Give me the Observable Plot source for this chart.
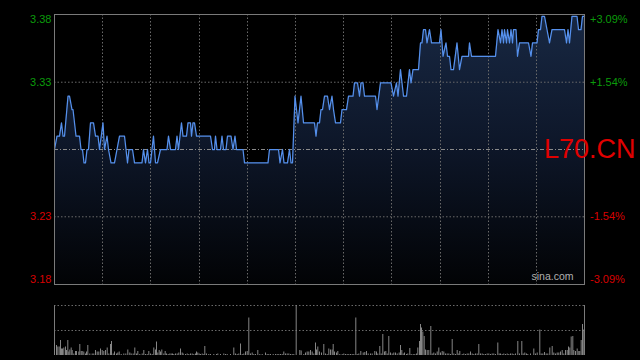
<!DOCTYPE html>
<html><head><meta charset="utf-8">
<script src="https://cdn.jsdelivr.net/npm/d3@7"></script>
<script src="https://cdn.jsdelivr.net/npm/@observablehq/plot@0.6"></script>
<style>
html,body{margin:0;padding:0;background:#000;}
#wrap{position:relative;width:640px;height:360px;background:#000;overflow:hidden;}
#main{position:absolute;left:0;top:0;}
#vol{position:absolute;left:0;top:290px;}
</style></head><body><div id="wrap"><div id="main"></div><div id="vol"></div></div>
<script>
// ---- data ----
const prevClose = 3.28;
const rangePct = 3.09;
const pctTicks = [3.09, 1.54, -1.54, -3.09];
const priceTickLabels = ["3.38", "3.33", "3.23", "3.18"];
const pctTickLabels = ["+3.09%", "+1.54%", "-1.54%", "-3.09%"];
const timeGrid = [48, 96, 145, 193, 241, 289, 337, 386, 434, 482];
const symbol = "L70.CN";
const source = "sina.com";

const priceT = [0,2.5,5,7,8.5,10,13.5,15,17.5,18.5,21.5,25,26.5,28,29.5,31,32.5,34,36,39,41,43.5,45,48.5,50,52.5,54,56.5,60,62.5,65,70,71.5,73,74.5,78,80,87.5,89,91,93,94.5,96,99,101,103,106,112.5,114,116,121,122.5,124,127,128.5,132,133.5,136,137,138.5,140,142,156,158,160,161,162.5,166,167.5,169,171.5,173,176.5,178.5,180.5,182,188.5,190,213.5,215,224,225.5,228,229.5,233,235,236.5,238,240.5,243.5,246.5,249,260,261.5,263,265,266.5,268,270,273,275,277.5,279,281,286,287.5,292,294,298.5,300,303,305,306.5,308.5,310,321,322.5,326,336.5,339,342,343.5,346,349,352,355,356.5,358.5,364,366,367.5,369,371,372.5,375,377,385,386.5,388.5,391.5,393,395,396.5,399,402.5,405,407.5,414,415,417,441,443.5,446,447.5,449,450,452,453,455,456.5,458,459,461.5,463,465,474,476.5,478,482.5,484,486,487.5,490,492.5,495,497.5,510,512,513.5,515,517.5,522.5,524,526.5,528,530];
const priceV = [3.28,3.29,3.29,3.30,3.29,3.29,3.32,3.32,3.31,3.31,3.29,3.29,3.28,3.28,3.27,3.27,3.28,3.28,3.30,3.30,3.29,3.29,3.28,3.30,3.28,3.29,3.28,3.27,3.27,3.28,3.29,3.29,3.28,3.27,3.28,3.28,3.27,3.27,3.28,3.27,3.28,3.27,3.27,3.29,3.27,3.27,3.28,3.28,3.29,3.28,3.28,3.29,3.28,3.30,3.29,3.29,3.30,3.30,3.29,3.30,3.30,3.29,3.29,3.28,3.28,3.29,3.28,3.28,3.29,3.28,3.28,3.29,3.29,3.28,3.29,3.28,3.28,3.27,3.27,3.28,3.28,3.27,3.28,3.27,3.27,3.28,3.27,3.27,3.32,3.30,3.32,3.30,3.30,3.29,3.30,3.30,3.31,3.31,3.32,3.32,3.31,3.32,3.31,3.30,3.30,3.31,3.31,3.32,3.32,3.33,3.33,3.32,3.33,3.33,3.32,3.32,3.31,3.33,3.33,3.32,3.33,3.32,3.34,3.32,3.32,3.34,3.33,3.34,3.34,3.36,3.36,3.37,3.37,3.36,3.37,3.36,3.36,3.37,3.35,3.36,3.35,3.35,3.34,3.34,3.36,3.34,3.35,3.35,3.36,3.35,3.35,3.37,3.36,3.37,3.36,3.37,3.36,3.37,3.36,3.37,3.36,3.37,3.37,3.35,3.36,3.36,3.35,3.36,3.36,3.37,3.37,3.38,3.38,3.37,3.36,3.37,3.37,3.36,3.37,3.36,3.38,3.38,3.37,3.37,3.38,3.38];

const volT = [0,2,3.3,4.7,6,7,8,9.3,11,12,13.3,14.3,15.3,16.7,17.7,19.3,21,22,24.3,25.3,26.7,27.7,29.3,31,32,33.3,35.3,37.7,39.3,41,42.7,44.3,46,47.7,49.3,51,52.7,54.3,56,57,58.7,60,62,63.3,64.7,66.7,69.3,71.3,73.3,75.3,76.7,78.7,80.3,82,83.3,85.3,87.7,89.3,91,92.7,94.3,96,97.7,99.3,101,102,103.3,104.7,106,107.3,109.3,110.7,112,113.7,115.3,116.7,118,119.3,121,122.7,124.3,126,127.7,128.7,131,132.7,134.3,136,137.7,139.3,141,142,143.3,144.7,146,147.7,149.3,150.3,152,154.3,156,159.3,162,163.3,166,169.3,171,172.7,176,179.3,181,182.7,184.3,186,187.7,189.3,191,192.7,194.3,196,197.7,199.3,201,203.3,205.3,207.7,211,212.7,214.3,216,218.7,221,222.7,224.3,226,227.7,229.3,231,232.7,234.3,236,237.7,239.3,241.7,245.3,246.7,249.3,251,252.7,254.3,256,257.7,259.3,261,262,263.3,265,267,269.3,271,272.7,274.3,276,277.7,278.7,280,282,283.3,285.3,287.7,289.3,291,292.7,294.3,296,297.7,299.3,301.3,302.7,304.3,306.3,308.7,310.3,312,313.7,316,317.7,320.3,322,323.3,325.3,326.7,328.3,330,331.3,332.7,334.3,336,337.7,339.3,341,342.7,344.7,346,347.3,348.7,350,352,353.3,355.3,356.7,358.7,360.3,362,363.3,365,366,367,368.3,369.7,371,372.7,374.3,376.3,377.7,379.3,381,382.7,384.3,386,387.7,389.3,391,392.7,394.3,396,397.7,399.3,401,402.7,404.3,405.3,407.7,409.3,411,412.7,414.3,416,417.7,419.3,421,422.7,424.3,426,427.7,429.3,431,432.7,434.3,436,437.7,439.3,441,443.3,444.7,446,447.7,449.3,451,452.7,454.3,456,457.7,459.3,461,463.3,465,467.3,468.7,470.3,472,473.3,476,479.3,481,482.7,485.3,486.7,488.3,490,491.7,493.3,495.3,497.7,499.3,501,502.7,504.3,506,507.7,509.3,511,512.7,514,515.3,516.7,518.3,519.3,521,522.7,524.3,525.3,526.7,528,529.3];
const volV = [25,20,17,17,30,13,13,15,17,10,30,7,11,15,10,3,8,8,7,22,8,8,7,3,7,20,3,3,3,10,7,7,13,10,8,10,15,3,22,28,3,7,3,5,7,2,3,3,11,5,3,3,15,3,8,2,3,10,2,2,8,3,2,15,11,27,5,10,7,11,3,8,3,2,3,3,3,2,3,3,5,13,5,3,2,3,2,3,3,2,3,7,5,3,2,3,2,18,3,2,2,2,2,3,2,3,2,2,2,15,3,2,3,23,2,3,7,8,75,3,5,2,2,10,2,2,5,2,2,2,2,2,2,2,2,2,7,3,3,3,2,2,2,100,10,9,2,5,7,7,10,7,3,25,11,17,7,5,22,3,2,13,11,11,22,7,5,8,2,2,3,2,2,2,2,2,2,75,2,3,8,5,6,8,3,3,3,8,7,3,18,3,42,7,8,3,38,5,3,5,5,3,5,20,10,3,5,2,3,14,2,2,2,3,15,28,62,55,47,38,11,10,10,58,3,5,3,7,15,5,8,7,3,3,3,2,32,3,2,10,3,8,2,3,2,3,3,7,3,2,3,3,22,3,3,2,2,3,3,2,3,3,2,25,3,3,2,3,2,3,2,3,3,2,3,28,3,28,3,5,3,2,3,13,3,5,51,3,3,6,3,3,15,18,5,3,5,5,7,10,3,10,10,17,15,37,38,10,8,13,8,8,30,62,51];

// ---- build ----
const price = priceT.map((t, i) => ({t, p: priceV[i]}));
const volume = volT.map((t, i) => ({t, v: volV[i]}));
const yMin = prevClose * (1 - rangePct / 100);
const yMax = prevClose * (1 + rangePct / 100);
const labels = pctTicks.map((pct, i) => ({pct, y: prevClose * (1 + pct / 100), left: priceTickLabels[i], right: pctTickLabels[i]}));
const inner = labels.filter(d => Math.abs(d.pct) <= 3);
const topEdge = labels.filter(d => d.pct > 3);
const botEdge = labels.filter(d => d.pct < -3);
const green = "#0b9b0b", red = "#d80000";
const font = "'Liberation Sans', Arial, sans-serif";
const gridStroke = "#6a6a6a";
const tDomain = [0, 530];
const colorOf = d => d.pct > 0 ? green : red;

const mainChart = Plot.plot({
  width: 640, height: 290,
  marginLeft: 54, marginRight: 56, marginTop: 14, marginBottom: 6,
  style: {background: "#000", fontFamily: font, overflow: "visible"},
  x: {domain: tDomain, axis: null},
  y: {domain: [yMin, yMax], axis: null},
  marks: [
    Plot.areaY(price, {x: "t", y1: yMin, y2: "p", fill: "url(#pgrad)"}),
    Plot.ruleY(inner, {y: "y", stroke: gridStroke, strokeDasharray: "1.5,2"}),
    Plot.ruleX(timeGrid, {stroke: gridStroke, strokeDasharray: "1.5,2"}),
    Plot.ruleY([prevClose], {stroke: "#8a8a8a", strokeDasharray: "4,2,1,2"}),
    Plot.lineY(price, {x: "t", y: "p", stroke: "#5590ec", strokeWidth: 1.25}),
    Plot.frame({stroke: "#7a7a7a"}),
    Plot.text(inner, {frameAnchor: "left", y: "y", text: "left", textAnchor: "end", dx: -3, fontSize: 11, fill: colorOf}),
    Plot.text(inner, {frameAnchor: "right", y: "y", text: "right", textAnchor: "start", dx: 5.5, fontSize: 11, fill: colorOf}),
    Plot.text(topEdge, {frameAnchor: "left", y: "y", text: "left", textAnchor: "end", dx: -3, dy: 4.5, fontSize: 11, fill: colorOf}),
    Plot.text(botEdge, {frameAnchor: "left", y: "y", text: "left", textAnchor: "end", dx: -3, dy: -5, fontSize: 11, fill: colorOf}),
    Plot.text(topEdge, {frameAnchor: "right", y: "y", text: "right", textAnchor: "start", dx: 5.5, dy: 4.5, fontSize: 11, fill: colorOf}),
    Plot.text(botEdge, {frameAnchor: "right", y: "y", text: "right", textAnchor: "start", dx: 5.5, dy: -5, fontSize: 11, fill: colorOf}),
    Plot.text([symbol], {frameAnchor: "right", y: [prevClose], text: d => d, textAnchor: "start", dx: -40.5, fontSize: 27, fill: "#e00000"}),
    Plot.text([source], {frameAnchor: "bottom-right", text: d => d, textAnchor: "end", dx: -11, dy: -5, fontSize: 10.5, fill: "#b0b0b0"})
  ]
});

const defs = d3.select(mainChart).insert("defs", ":first-child");
const lg = defs.append("linearGradient").attr("id", "pgrad")
  .attr("gradientUnits", "userSpaceOnUse").attr("x1", 0).attr("x2", 0).attr("y1", 14).attr("y2", 284);
lg.append("stop").attr("offset", 0).attr("stop-color", "#182843");
lg.append("stop").attr("offset", 0.5).attr("stop-color", "#0d1628");
lg.append("stop").attr("offset", 1).attr("stop-color", "#020305");
document.getElementById("main").appendChild(mainChart);

const volChart = Plot.plot({
  width: 640, height: 70,
  marginLeft: 54, marginRight: 56, marginTop: 15, marginBottom: 5,
  style: {background: "#000", overflow: "visible"},
  x: {domain: tDomain, axis: null},
  y: {domain: [0, 100], axis: null},
  marks: [
    Plot.ruleY([50, 100], {stroke: gridStroke, strokeDasharray: "1.5,2"}),
    Plot.ruleX(tDomain, {stroke: "#7a7a7a"}),
    Plot.ruleX(volume, {x: "t", y1: 0, y2: "v", stroke: "#858585", strokeWidth: 1})
  ]
});
document.getElementById("vol").appendChild(volChart);
</script></body></html>
